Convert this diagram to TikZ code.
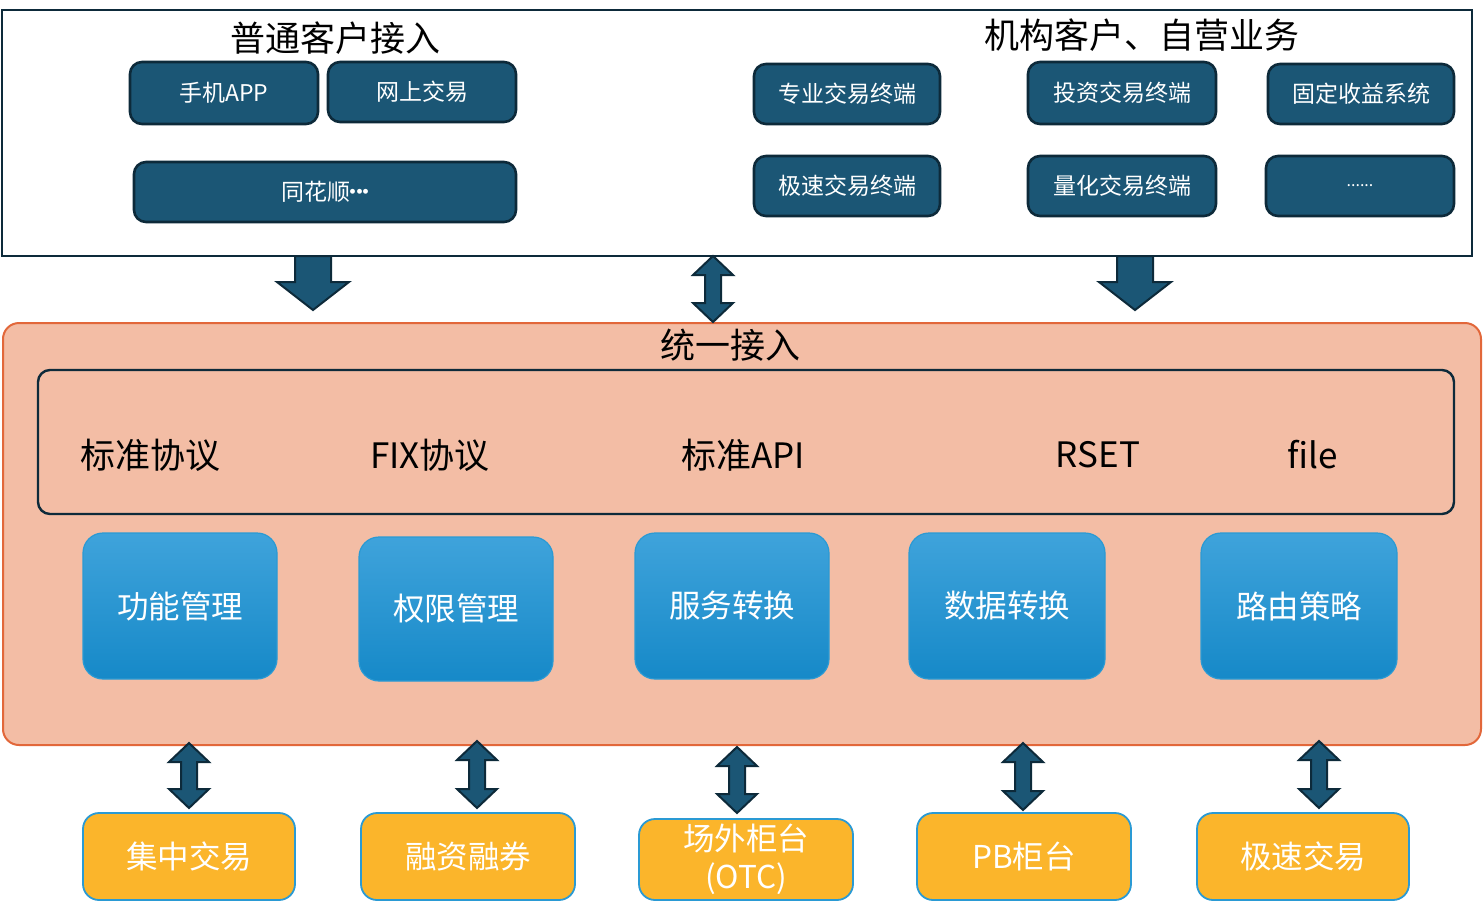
\documentclass[tikz,border=0pt]{standalone}
\usepackage{fontspec}
\setmainfont{Noto Sans CJK SC}
\usetikzlibrary{fit,calc}
\definecolor{dkfill}{HTML}{1B5675}
\definecolor{dkline}{HTML}{0D2A3A}
\definecolor{salmon}{HTML}{F3BDA5}
\definecolor{salmonline}{HTML}{E2673A}
\definecolor{orangebox}{HTML}{FBB52B}
\definecolor{bluetop}{HTML}{3FA3DB}
\definecolor{bluebot}{HTML}{1689C8}
\definecolor{blueline}{HTML}{2A9AD4}
\tikzset{
  darkbox/.style={draw=dkline,fill=dkfill,line width=1.3pt,rounded corners=6pt,inner sep=0pt},
  darktxt/.style={text=white,font=\fontsize{11.5}{13}\selectfont,inner sep=0pt},
  bluebox/.style={draw=blueline,top color=bluetop,bottom color=bluebot,line width=0.6pt,rounded corners=10pt,inner sep=0pt},
  bluetxt/.style={text=white,font=\fontsize{15.75}{18}\selectfont,inner sep=0pt},
  orbox/.style={draw=blueline,fill=orangebox,line width=0.9pt,rounded corners=8pt,inner sep=0pt},
  ortxt/.style={text=white,font=\fontsize{15.75}{19}\selectfont,inner sep=0pt,align=center},
  blk/.style={fill=dkfill,draw=dkline,line width=1pt,line join=miter},
  title/.style={font=\fontsize{17.5}{20}\selectfont,inner sep=0pt},
  proto/.style={font=\fontsize{17.5}{20}\selectfont,inner sep=0pt}
}
% double block arrow: x, ytop, ybottom
\newcommand\dblk[3]{%
  \draw[blk] (#1,#2) -- (#1+20,#2+19) -- (#1+8,#2+19) -- (#1+8,#3-19) -- (#1+20,#3-19)
    -- (#1,#3) -- (#1-20,#3-19) -- (#1-8,#3-19) -- (#1-8,#2+19) -- (#1-20,#2+19) -- cycle;}
% down block arrow: x, ytop, ybottom
\newcommand\dnblk[3]{%
  \draw[blk] (#1-18,#2) -- (#1+18,#2) -- (#1+18,#3-28) -- (#1+36,#3-28) -- (#1,#3)
    -- (#1-36,#3-28) -- (#1-18,#3-28) -- cycle;}
% box with centred label: style, name, x1,y1,x2,y2, textstyle, text
\newcommand\bx[8]{%
  \node[#1,fit={(#3,#4)(#5,#6)}] (#2) {};
  \node[#7] (#2-t) at (#2.center) {#8};}
\begin{document}
\begin{tikzpicture}[x=0.5pt,y=-0.5pt]
\useasboundingbox (0,0) rectangle (1484,916);
\fill[white] (0,0) rectangle (1484,916);
% top frame
\node[draw=dkline,line width=1.2pt,inner sep=0pt,fit={(2,10)(1472,256)}] (top) {};
\node[title] (t1) at (335,38) {普通客户接入};
\node[title] (t2) at (1142,35) {机构客户、自营业务};
% top boxes
\bx{darkbox}{app}{130}{62}{318}{124}{darktxt}{手机APP}
\bx{darkbox}{web}{328}{62}{516}{122}{darktxt}{网上交易}
\bx{darkbox}{ths}{134}{162}{516}{222}{darktxt}{同花顺\kern-0.4em·\kern-0.7em·\kern-0.7em·\kern-0.4em}
\bx{darkbox}{pro}{754}{64}{940}{124}{darktxt}{专业交易终端}
\bx{darkbox}{inv}{1028}{62}{1216}{124}{darktxt}{投资交易终端}
\bx{darkbox}{fix}{1268}{64}{1454}{124}{darktxt}{固定收益系统}
\bx{darkbox}{fast}{754}{156}{940}{216}{darktxt}{极速交易终端}
\bx{darkbox}{quant}{1028}{156}{1216}{216}{darktxt}{量化交易终端}
\bx{darkbox}{more}{1266}{156}{1454}{216}{darktxt}{\fontsize{8}{9}\selectfont ......}
% unified access
\node[draw=salmonline,fill=salmon,line width=1pt,rounded corners=8pt,inner sep=0pt,fit={(3,323)(1481,745)}] (uni) {};
\node[title] (t3) at (730,345) {统一接入};
\node[draw=dkline,line width=1.2pt,rounded corners=6pt,inner sep=0pt,fit={(38,370)(1454,514)}] (protos) {};
\node[proto] (p1) at (150,455) {标准协议};
\node[proto] (p2) at (430,455) {FIX协议};
\node[proto] (p3) at (743,455) {标准API};
\node[proto] (p4) at (1098,455) {RSET};
\node[proto] (p5) at (1313,455) {file};
% blue boxes
\bx{bluebox}{b1}{83}{533}{277}{679}{bluetxt}{功能管理}
\bx{bluebox}{b2}{359}{537}{553}{681}{bluetxt}{权限管理}
\bx{bluebox}{b3}{635}{533}{829}{679}{bluetxt}{服务转换}
\bx{bluebox}{b4}{909}{533}{1105}{679}{bluetxt}{数据转换}
\bx{bluebox}{b5}{1201}{533}{1397}{679}{bluetxt}{路由策略}
% bottom boxes
\bx{orbox}{o1}{83}{813}{295}{900}{ortxt}{集中交易}
\bx{orbox}{o2}{361}{813}{575}{900}{ortxt}{融资融券}
\bx{orbox}{o3}{639}{819}{853}{900}{ortxt}{场外柜台\\(OTC)}
\bx{orbox}{o4}{917}{813}{1131}{900}{ortxt}{PB柜台}
\bx{orbox}{o5}{1197}{813}{1409}{900}{ortxt}{极速交易}
% arrows top -> unified
\dnblk{313}{256}{310}
\dblk{713}{256}{322}
\dnblk{1135}{256}{310}
% arrows unified <-> bottom
\dblk{189}{743}{808}
\dblk{477}{741}{808}
\dblk{737}{747}{813}
\dblk{1023}{743}{810}
\dblk{1319}{741}{808}
\end{tikzpicture}
\end{document}
